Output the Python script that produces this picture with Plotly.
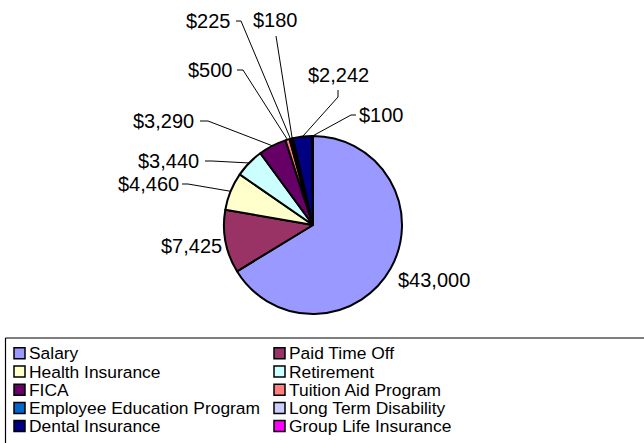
import math
import plotly.graph_objects as go

# ---- data ----
categories = ["Salary", "Paid Time Off", "Health Insurance", "Retirement", "FICA",
              "Tuition Aid Program", "Employee Education Program", "Long Term Disability",
              "Dental Insurance", "Group Life Insurance"]
values = [43000, 7425, 4460, 3440, 3290, 500, 225, 180, 2242, 100]
colors = ["#9999FF", "#993366", "#FFFFCC", "#CCFFFF", "#660066",
          "#FF8080", "#0066CC", "#CCCCFF", "#000080", "#FF00FF"]

# ---- layout constants (screen pixels) ----
W, H = 644, 443
CX, CY, R = 313, 225, 89
FONT = "Liberation Sans, Arial, sans-serif"

# label placement (text centre) and leader-line start/elbow, per slice
label_pos = [(434, 280), (191, 246), (148, 184), (168, 161), (163, 121),
             (210, 70), (208, 21), (275, 20), (338, 75), (381, 115)]
leader = [None, None,
          [(182, 184), (188, 184)],
          [(205, 161), (212, 161)],
          [(200, 121), (208, 121)],
          [(237, 70), (243, 70)],
          [(236, 21), (241, 21)],
          [(276, 36)],
          [(338, 90), (338, 97)],
          [(356, 115), (351, 115)]]

fig = go.Figure()

fig.add_trace(go.Pie(
    labels=categories, values=values, sort=False, direction="clockwise", rotation=0,
    marker=dict(colors=colors, line=dict(color="black", width=2)),
    textinfo="none", hoverinfo="skip", showlegend=False,
    domain=dict(x=[(CX - R) / W, (CX + R) / W],
                y=[(H - CY - R) / H, (H - CY + R) / H]),
))

# anchors on pie edge from the data
total = sum(values)
cum = 0
anchors = []
for v in values:
    mid = (cum + v / 2) / total * 2 * math.pi
    cum += v
    anchors.append((CX + R * math.sin(mid), CY - R * math.cos(mid)))

shapes = []
annotations = []
for i, v in enumerate(values):
    lx, ly = label_pos[i]
    annotations.append(dict(x=lx, y=ly, xref="x", yref="y", text=f"${v:,}",
                            showarrow=False, xanchor="center", yanchor="middle",
                            font=dict(family=FONT, size=20, color="black")))
    if leader[i]:
        pts = leader[i] + [anchors[i]]
        path = "M " + " L ".join(f"{px:.2f},{py:.2f}" for px, py in pts)
        shapes.append(dict(type="path", path=path, xref="x", yref="y",
                           line=dict(color="black", width=1), layer="above"))

# legend box: top and left borders (right/bottom lie outside the picture)
box_top = 1 - 338 / H
box_left = 5.5 / W
shapes.append(dict(type="line", xref="paper", yref="paper",
                   x0=box_left, x1=1.0, y0=box_top, y1=box_top,
                   line=dict(color="black", width=1.2)))
shapes.append(dict(type="line", xref="paper", yref="paper",
                   x0=box_left, x1=box_left, y0=box_top, y1=0.0,
                   line=dict(color="black", width=1.2)))

# legend as a scatter (two columns, row-major)
col_x = [19.5, 279.5]
row0, row_h = 353.3, 18.2
lx = [col_x[i % 2] for i in range(len(categories))]
ly = [row0 + (i // 2) * row_h for i in range(len(categories))]
fig.add_trace(go.Scatter(
    x=lx, y=ly, mode="markers", hoverinfo="skip", showlegend=False,
    marker=dict(symbol="square", size=11, color=colors, line=dict(color="black", width=1.5)),
))
fig.add_trace(go.Scatter(
    x=[x + 9.5 for x in lx], y=[y + 1.8 for y in ly], mode="text", text=categories,
    textposition="middle right", hoverinfo="skip", showlegend=False,
    textfont=dict(family=FONT, size=17.4, color="black"),
))

fig.update_layout(
    width=W, height=H, margin=dict(l=0, r=0, t=0, b=0),
    paper_bgcolor="white", plot_bgcolor="rgba(0,0,0,0)",
    xaxis=dict(range=[0, W], visible=False, fixedrange=True, domain=[0, 1]),
    yaxis=dict(range=[H, 0], visible=False, fixedrange=True, domain=[0, 1]),
    shapes=shapes, annotations=annotations, showlegend=False,
)

fig.write_html("out.html", config={"displayModeBar": False},
               post_script="document.body.style.margin='0';document.body.style.overflow='hidden';")
